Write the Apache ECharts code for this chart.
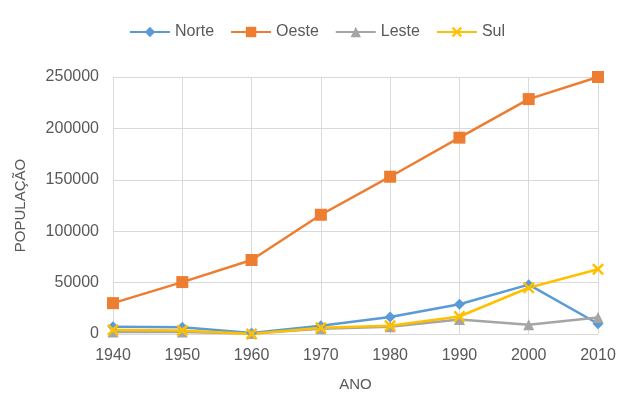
<!DOCTYPE html>
<html><head><meta charset="utf-8">
<script src="https://cdn.jsdelivr.net/npm/echarts@6/dist/echarts.min.js"></script>
<style>html,body{margin:0;padding:0;background:#fff}#c{width:634px;height:405px}</style>
</head><body><div id="c"></div>
<script>
const categories = ['1940','1950','1960','1970','1980','1990','2000','2010'];
const norte = [7000, 6500, 1000, 8000, 16500, 29000, 48000, 10000];
const oeste = [30000, 50500, 72000, 116000, 153000, 191000, 228500, 250000];
const leste = [2000, 2000, 500, 5000, 7000, 14000, 9000, 16000];
const sul = [4000, 3500, 0, 6000, 8000, 17000, 45000, 63000];

const xPath = 'path://M0,1.5L1.5,0L5,3.5L8.5,0L10,1.5L6.5,5L10,8.5L8.5,10L5,6.5L1.5,10L0,8.5L3.5,5Z';
const font = 'Liberation Sans';
const chart = echarts.init(document.getElementById('c'));
function s(name, data, color, symbol, size){
  return {name, type:'line', data, symbol, symbolSize:size, showSymbol:true,
    lineStyle:{color, width:2.5}, itemStyle:{color}, z: 2};
}
chart.setOption({
  animation:false,
  textStyle:{fontFamily:font},
  legend:{top:19, left:'center', itemWidth:40, itemHeight:13, itemGap:16,
    textStyle:{fontSize:16, color:'#595959', fontFamily:font},
    data:['Norte','Oeste','Leste','Sul']},
  grid:{left:113, right:36, top:77, bottom:71, containLabel:false},
  xAxis:{type:'category', data:categories, boundaryGap:false,
    name:'ANO', nameLocation:'middle', nameGap:43,
    nameTextStyle:{fontSize:15, color:'#595959'},
    axisLine:{show:false}, axisTick:{show:false},
    axisLabel:{fontSize:16, color:'#595959', margin:14},
    splitLine:{show:true, lineStyle:{color:'#d9d9d9'}}},
  yAxis:{type:'value', min:0, max:250000, interval:50000,
    name:'POPULAÇÃO', nameLocation:'middle', nameGap:85,
    nameTextStyle:{fontSize:15, color:'#595959'},
    axisLine:{show:false}, axisTick:{show:false},
    axisLabel:{fontSize:16, color:'#595959', margin:14, formatter: v => String(v)},
    splitLine:{show:true, lineStyle:{color:'#d9d9d9'}}},
  series:[
    s('Norte', norte, '#5B9BD5', 'diamond', 11),
    s('Oeste', oeste, '#ED7D31', 'rect', 12),
    s('Leste', leste, '#A5A5A5', 'triangle', 11),
    s('Sul', sul, '#FFC000', xPath, 12)
  ]
});
</script></body></html>
